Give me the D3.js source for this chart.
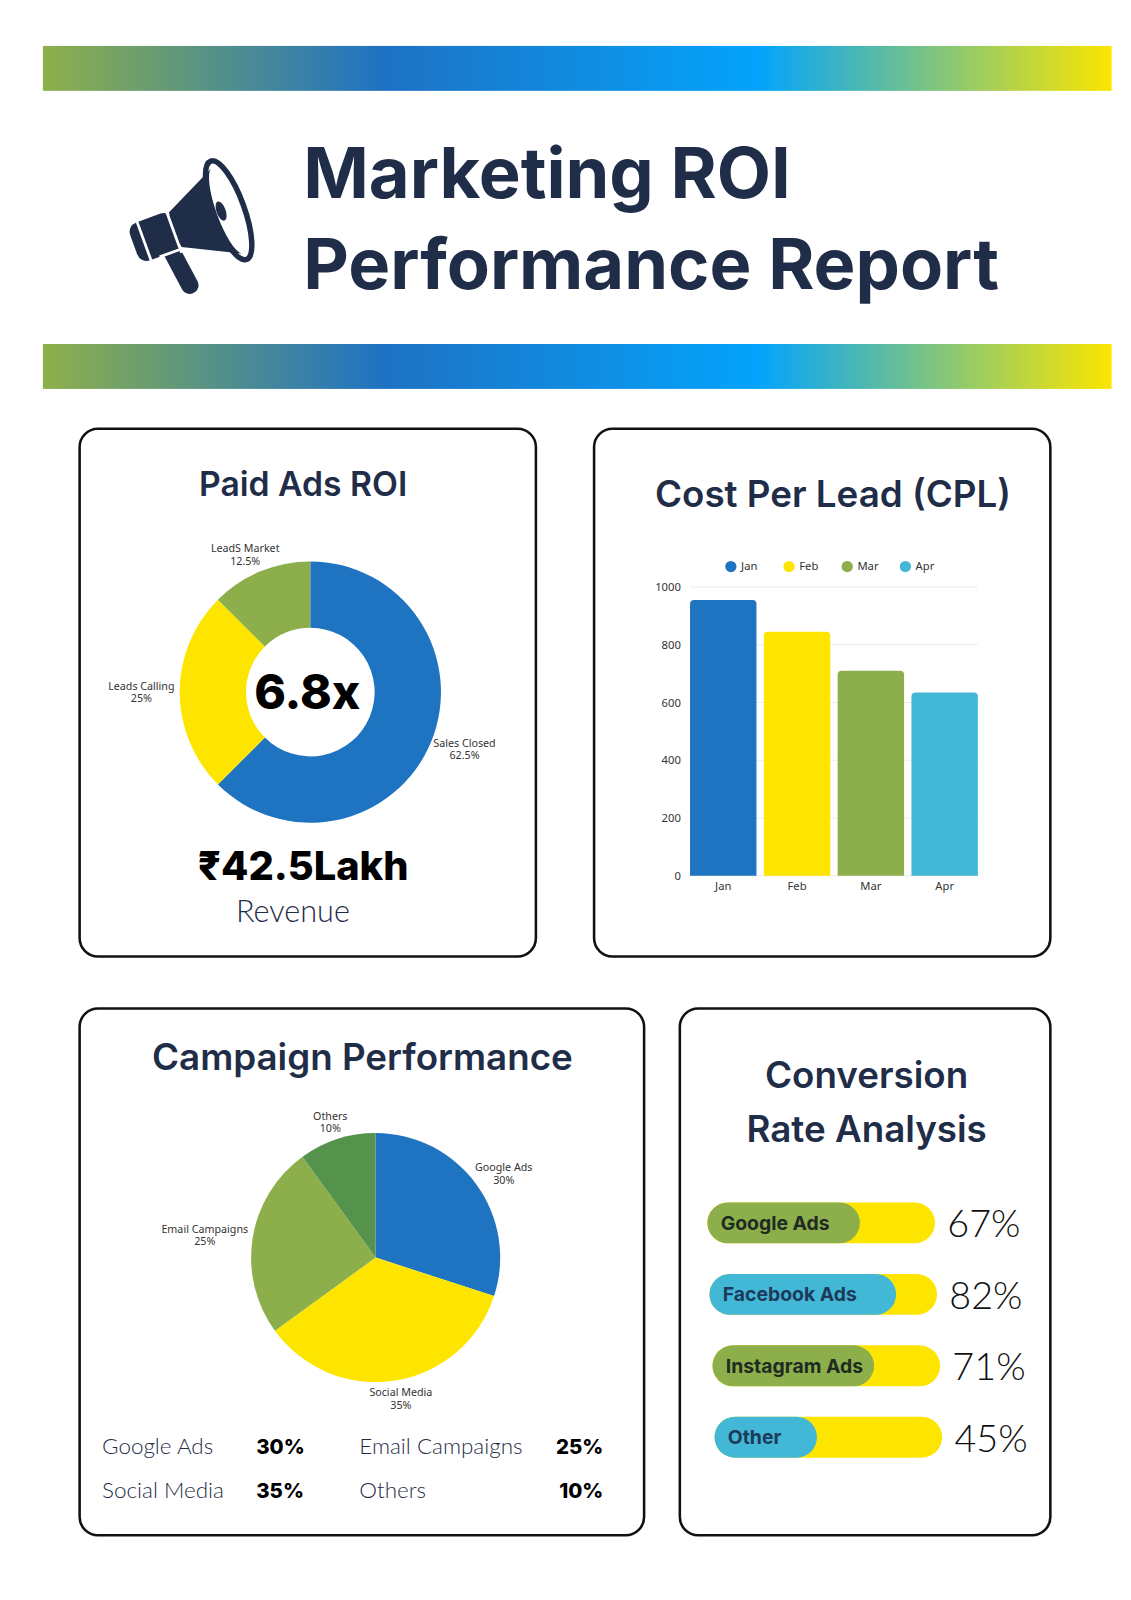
<!DOCTYPE html>
<html>
<head>
<meta charset="utf-8">
<script src="https://cdn.jsdelivr.net/npm/d3@7"></script>
<style>
  body { margin: 0; background: #fff; }
  svg { display: block; }
</style>
</head>
<body>
<svg id="chart" width="1131" height="1600"></svg>
<script>
// chart values
var roiLabels = ["Sales Closed", "Leads Calling", "LeadS Market"];
var roiValues = [62.5, 25, 12.5];

var cplMonths = ["Jan", "Feb", "Mar", "Apr"];
var cplValues = [955, 845, 710, 635];
var cplTicks = [0, 200, 400, 600, 800, 1000];

var campLabels = ["Google Ads", "Social Media", "Email Campaigns", "Others"];
var campValues = [30, 35, 25, 10];

var convLabels = ["Google Ads", "Facebook Ads", "Instagram Ads", "Other"];
var convValues = [67, 82, 71, 45];

// colours
var navy = "#1f2d48", blue = "#1f74c1", yellow = "#fde500",
    green = "#8cae4b", darkGreen = "#55924b", cyan = "#42b7d6";

var head = "Inter, 'Noto Sans', sans-serif";
var small = "'Noto Sans', 'DejaVu Sans', sans-serif";
var light = "Lato, 'Noto Sans', sans-serif";

var svg = d3.select("#chart");
// layout was measured on a 1108 wide grid
var root = svg.append("g").attr("transform", "scale(" + (1131 / 1108) + ")");

// gradient strips
var grad = svg.append("defs").append("linearGradient")
    .attr("id", "strip").attr("x1", 0).attr("x2", 1).attr("y1", 0).attr("y2", 0);
[[0, "#8db04a"], [0.32, "#1e72c4"], [0.67, "#03a4fc"], [1, "#fbe600"]].forEach(function (s) {
  grad.append("stop").attr("offset", s[0]).attr("stop-color", s[1]);
});
[45, 337].forEach(function (y) {
  root.append("rect").attr("x", 42).attr("y", y).attr("width", 1047).attr("height", 44)
      .attr("fill", "url(#strip)");
});

// megaphone icon
var mega = root.append("g").attr("transform", "translate(224,206) rotate(-20) scale(0.9)").attr("fill", navy);
mega.append("rect").attr("x", -84).attr("y", 14).attr("width", 19).attr("height", 58).attr("rx", 9)
    .attr("transform", "rotate(-8,-75,14)");
mega.append("rect").attr("x", -110).attr("y", -22).attr("width", 50).attr("height", 44).attr("rx", 11);
mega.append("path").attr("d", "M-62,-20 L-3,-49 A13,50 0 0,0 -3,49 L-62,20 Z");
mega.append("ellipse").attr("cx", 0).attr("cy", 0).attr("rx", 17).attr("ry", 57)
    .attr("fill", "none").attr("stroke", navy).attr("stroke-width", 6);
mega.append("ellipse").attr("cx", -8).attr("cy", -2).attr("rx", 5).attr("ry", 11);
mega.selectAll("line.cut").data([-98, -64]).enter().append("line")
    .attr("x1", function (d) { return d; }).attr("x2", function (d) { return d; })
    .attr("y1", -26).attr("y2", 26).attr("stroke", "#fff").attr("stroke-width", 3);
mega.append("line").attr("x1", -88).attr("x2", -62).attr("y1", 22).attr("y2", 22)
    .attr("stroke", "#fff").attr("stroke-width", 3);

// title
root.append("text").attr("x", 297).attr("y", 194).attr("font-family", head)
    .attr("font-weight", 700).attr("font-size", 69).attr("fill", navy).text("Marketing ROI");
root.append("text").attr("x", 297).attr("y", 283).attr("font-family", head)
    .attr("font-weight", 700).attr("font-size", 69).attr("fill", navy).text("Performance Report");

// cards
var cards = [[78, 420, 447, 517], [582, 420, 447, 517], [78, 988, 553, 516], [666, 988, 363, 516]];
root.selectAll("rect.card").data(cards).enter().append("rect").attr("class", "card")
    .attr("x", function (d) { return d[0]; }).attr("y", function (d) { return d[1]; })
    .attr("width", function (d) { return d[2]; }).attr("height", function (d) { return d[3]; })
    .attr("rx", 18).attr("fill", "#fff").attr("stroke", "#111").attr("stroke-width", 2.5);

function title(x, y, size, txt) {
  return root.append("text").attr("x", x).attr("y", y).attr("text-anchor", "middle")
      .attr("font-family", head).attr("font-weight", 600).attr("font-size", size)
      .attr("fill", navy).text(txt);
}

// two-line slice label pushed just outside the ring
function sliceLabel(g, d, r, lines) {
  var mid = (d.startAngle + d.endAngle) / 2, dx = Math.sin(mid), dy = -Math.cos(mid);
  var t = g.append("text").attr("text-anchor", "middle").attr("font-family", small)
      .attr("font-size", 10.5).attr("fill", "#333");
  lines.forEach(function (s, i) {
    t.append("tspan").attr("x", 0).attr("dy", i ? "1.15em" : 0).text(s);
  });
  var b = t.node().getBBox();
  var cx = dx * (r + 5) + dx * b.width / 2, cy = dy * (r + 5) + dy * b.height / 2;
  t.attr("transform", "translate(" + cx + "," + (cy - b.y - b.height / 2) + ")");
}

// ---- Paid Ads ROI donut
title(297, 486, 33, "Paid Ads ROI");
var donut = root.append("g").attr("transform", "translate(304,678)");
var roiPie = d3.pie().sort(null).value(function (d) { return d; })(roiValues);
var roiArc = d3.arc().innerRadius(63).outerRadius(128);
var roiColor = d3.scaleOrdinal().domain(roiLabels).range([blue, yellow, green]);
donut.selectAll("path").data(roiPie).enter().append("path")
    .attr("d", roiArc).attr("fill", function (d, i) { return roiColor(roiLabels[i]); });
roiPie.forEach(function (d, i) { sliceLabel(donut, d, 128, [roiLabels[i], roiValues[i] + "%"]); });
root.append("text").attr("x", 301).attr("y", 695).attr("text-anchor", "middle")
    .attr("font-family", head).attr("font-weight", 800).attr("font-size", 47)
    .attr("fill", "#000").text("6.8x");
root.append("text").attr("x", 297).attr("y", 862).attr("text-anchor", "middle")
    .attr("font-family", head).attr("font-weight", 800).attr("font-size", 39)
    .attr("fill", "#000").text("₹42.5Lakh");
root.append("text").attr("x", 287).attr("y", 903).attr("text-anchor", "middle")
    .attr("font-family", light).attr("font-weight", 300).attr("font-size", 30)
    .attr("fill", navy).text("Revenue");

// ---- Cost Per Lead bars
title(816, 497, 36, "Cost Per Lead (CPL)");
var x = d3.scaleBand().domain(cplMonths).range([676, 958]).paddingInner(0.1).paddingOuter(0);
var y = d3.scaleLinear().domain([0, 1000]).range([858, 575]);
var barColor = d3.scaleOrdinal().domain(cplMonths).range([blue, yellow, green, cyan]);
var cpl = root.append("g");
cpl.selectAll("line.grid").data(cplTicks).enter().append("line")
    .attr("x1", 676).attr("x2", 958)
    .attr("y1", function (d) { return y(d); }).attr("y2", function (d) { return y(d); })
    .attr("stroke", "#ebebeb").attr("stroke-width", 1);
cpl.append("g").attr("transform", "translate(667,0)")
    .call(d3.axisLeft(y).tickValues(cplTicks).tickFormat(d3.format("d")).tickSize(0).tickPadding(0))
    .call(function (g) { g.select(".domain").remove(); })
    .selectAll("text").attr("font-family", small).attr("font-size", 11).attr("fill", "#333");
cpl.append("g").attr("transform", "translate(0,858)")
    .call(d3.axisBottom(x).tickSize(0).tickPadding(6))
    .call(function (g) { g.select(".domain").remove(); })
    .selectAll("text").attr("font-family", small).attr("font-size", 11).attr("fill", "#333");
cpl.selectAll("path.bar").data(cplMonths).enter().append("path").attr("class", "bar")
    .attr("d", function (m, i) {
      var x0 = x(m), w = x.bandwidth(), top = y(cplValues[i]), base = y(0), r = 4;
      return "M" + x0 + "," + base + "V" + (top + r) + "Q" + x0 + "," + top + " " + (x0 + r) + "," + top +
        "H" + (x0 + w - r) + "Q" + (x0 + w) + "," + top + " " + (x0 + w) + "," + (top + r) + "V" + base + "Z";
    })
    .attr("fill", function (m) { return barColor(m); });
var legX = d3.scalePoint().domain(cplMonths).range([716, 887]);
var leg = cpl.selectAll("g.leg").data(cplMonths).enter().append("g")
    .attr("transform", function (m) { return "translate(" + legX(m) + ",555)"; });
leg.append("circle").attr("r", 5.5).attr("fill", function (m) { return barColor(m); });
leg.append("text").attr("x", 10).attr("dy", "0.35em").attr("font-family", small)
    .attr("font-size", 11).attr("fill", "#333").text(function (m) { return m; });

// ---- Campaign Performance pie
title(355, 1048, 36, "Campaign Performance");
var pieG = root.append("g").attr("transform", "translate(368,1232)");
var campPie = d3.pie().sort(null).value(function (d) { return d; })(campValues);
var campArc = d3.arc().innerRadius(0).outerRadius(122);
var campColor = d3.scaleOrdinal().domain(campLabels).range([blue, yellow, green, darkGreen]);
pieG.selectAll("path").data(campPie).enter().append("path")
    .attr("d", campArc).attr("fill", function (d, i) { return campColor(campLabels[i]); });
campPie.forEach(function (d, i) { sliceLabel(pieG, d, 122, [campLabels[i], campValues[i] + "%"]); });

// summary list under the pie: Google, Email / Social, Others
var statOrder = [0, 2, 1, 3];
var stats = root.append("g");
statOrder.forEach(function (k, j) {
  var col = j % 2, row = Math.floor(j / 2), yy = 1424 + row * 44;
  stats.append("text").attr("x", col ? 352 : 100).attr("y", yy)
      .attr("font-family", light).attr("font-weight", 300).attr("font-size", 22)
      .attr("fill", navy).text(campLabels[k]);
  stats.append("text").attr("x", col ? 591 : 251).attr("y", yy)
      .attr("text-anchor", col ? "end" : "start")
      .attr("font-family", head).attr("font-weight", 800).attr("font-size", 20)
      .attr("fill", "#000").text(campValues[k] + "%");
});

// ---- Conversion rate bars
title(849, 1066, 36, "Conversion");
title(849, 1119, 36, "Rate Analysis");
var trackX = [693, 695, 698, 700];
var fillColor = [green, cyan, green, cyan];
var textColor = ["#1f2b22", "#1c3a5a", "#1f2b22", "#1c3a5a"];
var pct = d3.scaleLinear().domain([0, 100]).range([0, 223]);
var conv = root.selectAll("g.conv").data(convLabels).enter().append("g")
    .attr("transform", function (d, i) { return "translate(" + trackX[i] + "," + (1178 + i * 70) + ")"; });
conv.append("rect").attr("width", pct(100)).attr("height", 40).attr("rx", 20).attr("fill", yellow);
conv.append("rect").attr("width", function (d, i) { return pct(convValues[i]); })
    .attr("height", 40).attr("rx", 20).attr("fill", function (d, i) { return fillColor[i]; });
conv.append("text").attr("x", 13).attr("y", 27).attr("font-family", head)
    .attr("font-weight", 700).attr("font-size", 19)
    .attr("fill", function (d, i) { return textColor[i]; }).text(function (d) { return d; });
conv.append("text").attr("x", pct(100) + 12).attr("y", 34).attr("font-family", light)
    .attr("font-weight", 300).attr("font-size", 37).attr("fill", "#111")
    .text(function (d, i) { return convValues[i] + "%"; });
</script>
</body>
</html>
